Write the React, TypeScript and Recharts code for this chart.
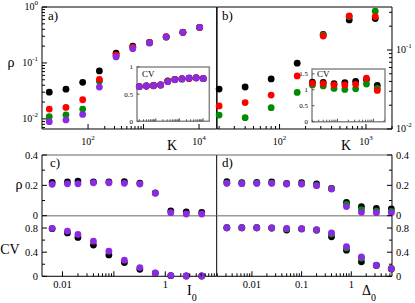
import React from "react"
import {
    ScatterChart,
    Scatter,
    XAxis,
    YAxis,
    ReferenceLine,
    ReferenceArea,
} from "recharts"

// panel a) rho vs K, inset CV vs K
const kA = [20, 40, 80, 160, 320, 640, 1280, 2560, 5120, 10240]
const rhoABlack = [0.03, 0.034, 0.045, 0.072, 0.149, 0.2, 0.232, 0.29, 0.35, 0.43]
const rhoARed = [0.015, 0.016, 0.022, 0.051, 0.139, 0.19, 0.23, 0.295, 0.352, 0.432]
const rhoAGreen = [0.011, 0.0118, 0.015, 0.047, 0.135, 0.188, 0.228, 0.292, 0.356, 0.433]
const rhoAPurple = [0.0089, 0.0096, 0.012, 0.037, 0.128, 0.18, 0.228, 0.293, 0.353, 0.434]
const cvABlack = [0.64, 0.65, 0.66, 0.67, 0.745, 0.77, 0.78, 0.79, 0.8, 0.785]
const cvARed = [0.64, 0.65, 0.655, 0.67, 0.735, 0.765, 0.785, 0.79, 0.805, 0.79]
const cvAGreen = [0.64, 0.65, 0.655, 0.67, 0.74, 0.77, 0.78, 0.795, 0.8, 0.785]
const cvAPurple = [0.637, 0.65, 0.656, 0.668, 0.73, 0.766, 0.78, 0.797, 0.797, 0.785]

// panel b) rho vs K, inset CV vs K
const kB = [20, 40, 80, 160, 320, 640, 1280]
const rhoBBlack = [0.032, 0.034, 0.043, 0.068, 0.157, 0.24, 0.25]
const rhoBRed = [0.0196, 0.0216, 0.0269, 0.047, 0.15, 0.27, 0.265]
const rhoBGreen = [0.015, 0.0139, 0.0186, 0.029, 0.155, 0.265, 0.31]
const cvBBlack = [1.24, 1.23, 1.19, 1.22, 1.26, 1.32, 1.14]
const cvBRed = [1.2, 1.19, 1.15, 1.15, 1.17, 1.36, 0.98]
const cvBGreen = [1.15, 1.12, 1.04, 1.01, 1.03, 1.18, 1.04]

// panel c) rho and CV vs I0
const i0 = [0.0063, 0.0125, 0.02, 0.04, 0.08, 0.16, 0.32, 0.64, 1.28, 2.56, 5.12]
const rhoCBlack = [0.22, 0.222, 0.228, 0.222, 0.222, 0.225, 0.215, 0.15, 0.031, 0.025, 0.021]
const rhoCPurple = [0.207, 0.21, 0.21, 0.217, 0.217, 0.213, 0.209, 0.148, 0.02, 0.011, 0.011]
const cvCBlack = [0.79, 0.72, 0.645, 0.517, 0.355, 0.228, 0.117, 0.05, 0.01, 0.005, 0.005]
const cvCPurple = [0.795, 0.75, 0.695, 0.583, 0.417, 0.267, 0.145, 0.055, 0.012, 0.005, 0.005]

// panel d) rho and CV vs Delta0
const d0 = [0.003125, 0.00625, 0.0125, 0.025, 0.05, 0.1, 0.2, 0.4, 0.8, 1.6, 3.2, 6.4]
const rhoDBlack = [0.224, 0.217, 0.22, 0.222, 0.212, 0.217, 0.209, 0.18, 0.088, 0.06, 0.048, 0.044]
const rhoDGreen = [0.215, 0.212, 0.214, 0.215, 0.21, 0.21, 0.2, 0.178, 0.075, 0.04, 0.03, 0.028]
const rhoDPurple = [0.213, 0.211, 0.213, 0.213, 0.209, 0.209, 0.198, 0.176, 0.06, 0.022, 0.02, 0.02]
const cvDBlack = [0.805, 0.805, 0.805, 0.8, 0.767, 0.785, 0.765, 0.655, 0.433, 0.24, 0.18, 0.12]
const cvDGreen = [0.805, 0.805, 0.805, 0.8, 0.785, 0.788, 0.77, 0.7, 0.47, 0.3, 0.18, 0.13]
const cvDPurple = [0.805, 0.805, 0.805, 0.805, 0.795, 0.79, 0.772, 0.72, 0.49, 0.32, 0.183, 0.128]

// tick labels
const rhoTicks = [0, 0.1, 0.2, 0.3, 0.4]
const rhoLabels = [0, 0.2, 0.4]
const cvTicks = [0, 0.2, 0.4, 0.6, 0.8]
const cvLabels = [0, 0.4, 0.8]
const insetATicks = [0, 0.5, 1]
const insetBTicks = [0, 0.5, 1, 1.5]

const BLACK = "#000000"
const RED = "#ff0000"
const GREEN = "#008c00"
const PURPLE = "#8a2be2"
const GRAY = "#999999"
const FONT = "'Liberation Serif', 'DejaVu Serif', serif"
const PAD = 40
// axes need a non-zero size to be drawn at all
const THIN = 0.01

type Box = { x: number; y: number; w: number; h: number }

const logTicks = (lo: number, hi: number) => {
    const t: number[] = []
    for (let e = Math.floor(Math.log10(lo)); e <= Math.ceil(Math.log10(hi)); e++) {
        for (let m = 1; m < 10; m++) {
            const v = Number((m * Math.pow(10, e)).toPrecision(3))
            if (v >= lo && v <= hi) t.push(v)
        }
    }
    return t
}

const isDecade = (v: number) => Math.abs(Math.log10(v) - Math.round(Math.log10(v))) < 1e-6

const pow = (v: number) => (
    <>
        <tspan>10</tspan>
        <tspan dy={-5} fontSize={7}>{Math.round(Math.log10(v))}</tspan>
    </>
)

type TickOpts = {
    major: (v: number) => boolean
    label: (v: number) => React.ReactNode
    fs?: number
    dy?: number
    color?: string
    long?: number
    short?: number
}

function tickFn(side: "bottom" | "left" | "right", o: TickOpts) {
    return (p: any) => {
        const v = p.payload.value as number
        const { x, y } = p
        const len = o.major(v) ? o.long ?? 5 : o.short ?? 3
        const lab = o.label(v)
        const fs = o.fs ?? 10.5
        const c = o.color ?? BLACK
        if (side === "bottom") {
            return (
                <g>
                    <line x1={x} x2={x} y1={y} y2={y - len} stroke={c} />
                    {lab != null && (
                        <text x={x} y={y + (o.dy ?? 12)} textAnchor="middle" fontSize={fs} fontFamily={FONT} fill={BLACK}>
                            {lab}
                        </text>
                    )}
                </g>
            )
        }
        const s = side === "left" ? 1 : -1
        return (
            <g>
                <line x1={x} x2={x + s * len} y1={y} y2={y} stroke={c} />
                {lab != null && (
                    <text
                        x={x - s * 4}
                        y={y + fs * 0.34}
                        textAnchor={side === "left" ? "end" : "start"}
                        fontSize={fs}
                        fontFamily={FONT}
                        fill={BLACK}
                    >
                        {lab}
                    </text>
                )}
            </g>
        )
    }
}

const pts = (xs: number[], ys: number[]) => xs.map((x, i) => ({ x, y: ys[i] }))
const dot = (color: string) => (p: any) => <circle cx={p.cx} cy={p.cy} r={3.4} fill={color} />

function Plot({ box, children }: { box: Box; children: React.ReactNode }) {
    return (
        <div style={{ position: "absolute", left: box.x - PAD, top: box.y - PAD }}>
            <ScatterChart
                width={box.w + 2 * PAD}
                height={box.h + 2 * PAD}
                margin={{ top: PAD, right: PAD, bottom: PAD, left: PAD }}
            >
                {children}
            </ScatterChart>
        </div>
    )
}

const axisX = (domain: number[], ticks: number[], tick: any, hide = false, axisLine: any = { stroke: BLACK }) => (
    <XAxis
        dataKey="x"
        type="number"
        scale="log"
        domain={domain}
        ticks={ticks}
        interval={0}
        tick={tick}
        tickLine={false}
        tickSize={0}
        tickMargin={0}
        height={THIN}
        axisLine={axisLine}
        hide={hide}
    />
)

const axisY = (
    scale: "log" | "linear",
    domain: number[],
    ticks: number[],
    tick: any,
    orientation: "left" | "right" = "left",
    axisLine: any = { stroke: BLACK },
) => (
    <YAxis
        dataKey="y"
        type="number"
        scale={scale}
        domain={domain}
        ticks={ticks}
        interval={0}
        tick={tick}
        tickLine={false}
        tickSize={0}
        tickMargin={0}
        width={THIN}
        orientation={orientation}
        axisLine={axisLine}
    />
)

const series = (xs: number[], list: [number[], string][]) =>
    list.map(([ys, c], i) => (
        <Scatter key={i} data={pts(xs, ys)} shape={dot(c)} isAnimationActive={false} />
    ))

const boxA: Box = { x: 42, y: 7, w: 174.7, h: 122 }
const boxAIn: Box = { x: 136.7, y: 67, w: 72.3, h: 54.3 }
const boxB: Box = { x: 216.7, y: 7, w: 175, h: 122 }
const boxBIn: Box = { x: 311.5, y: 69, w: 73, h: 52.7 }
const boxCU: Box = { x: 42, y: 155, w: 174.7, h: 60.7 }
const boxCL: Box = { x: 42, y: 215.7, w: 174.7, h: 60.3 }
const boxDU: Box = { x: 216.7, y: 155, w: 175, h: 60.7 }
const boxDL: Box = { x: 216.7, y: 215.7, w: 175, h: 60.3 }

const domAX = [14.8, 20800]
const domAY = [0.0066, 1]
const domAInX = [16, 18400]
const domBX = [18.9, 2000]
const domBY = [0.01, 0.35]
const domBInX = [19.5, 2100]
const domCX = [0.004, 10]
const domDX = [0.00198, 6.6]

const numLabel = (list: number[]) => (v: number) => (list.includes(v) ? String(v) : null)

export default function App() {
    const aXTicks = [100, ...logTicks(200, 900), 1000, 10000]
    const cXTicks = [...logTicks(0.01, 0.1), ...logTicks(1, 9)]
    const insetTick = (side: "bottom" | "left") =>
        tickFn(side, { major: isDecade, label: () => null, color: "#555", long: 3, short: 2 })
    const insetYTick = (labels: number[]) =>
        tickFn("left", { major: () => true, label: numLabel(labels), fs: 7, color: "#555", long: 2.5 })

    return (
        <div style={{ position: "absolute", left: 0, top: 0, width: 415, height: 303, background: "#fff", fontFamily: FONT }}>
            {/* a) */}
            <Plot box={boxA}>
                {axisX(domAX, aXTicks, tickFn("bottom", {
                    major: isDecade,
                    label: (v) => (v === 100 || v === 10000 ? pow(v) : null),
                    dy: 16,
                    fs: 10,
                }))}
                {axisY("log", domAY, logTicks(0.0066, 1), tickFn("left", {
                    major: isDecade,
                    label: (v) => (isDecade(v) ? pow(v) : null),
                    fs: 10,
                }))}
                <ReferenceLine y={1} stroke={BLACK} ifOverflow="visible" />
                <ReferenceLine x={domAX[1]} stroke={BLACK} ifOverflow="visible" />
                {series(kA, [[rhoABlack, BLACK], [rhoAGreen, GREEN], [rhoARed, RED], [rhoAPurple, PURPLE]])}
            </Plot>
            <Plot box={boxAIn}>
                {axisX(domAInX, logTicks(16, 18400), insetTick("bottom"), false, false)}
                {axisY("linear", [0, 1], insetATicks, insetYTick(insetATicks), "left", false)}
                <ReferenceArea x1={domAInX[0]} x2={domAInX[1]} y1={0} y2={1} fill="#fff" fillOpacity={1} stroke="#888" strokeWidth={1.5} ifOverflow="visible" />
                {series(kA, [[cvABlack, BLACK], [cvAGreen, GREEN], [cvARed, RED], [cvAPurple, PURPLE]])}
            </Plot>

            {/* b) */}
            <Plot box={boxB}>
                {axisX(domBX, logTicks(20, 2000), tickFn("bottom", {
                    major: isDecade,
                    label: (v) => (isDecade(v) ? pow(v) : null),
                    dy: 16,
                    fs: 10,
                }))}
                {axisY("log", domBY, logTicks(0.01, 0.35), tickFn("right", {
                    major: isDecade,
                    label: (v) => (isDecade(v) ? pow(v) : null),
                    fs: 10,
                }), "right")}
                <ReferenceLine y={domBY[1]} stroke={BLACK} ifOverflow="visible" />
                <ReferenceLine x={domBX[0]} stroke={BLACK} ifOverflow="visible" />
                {series(kB, [[rhoBBlack, BLACK], [rhoBGreen, GREEN], [rhoBRed, RED]])}
            </Plot>
            <Plot box={boxBIn}>
                {axisX(domBInX, logTicks(20, 2000), insetTick("bottom"), false, false)}
                {axisY("linear", [0, 1.65], insetBTicks, insetYTick(insetBTicks), "left", false)}
                <ReferenceArea x1={domBInX[0]} x2={domBInX[1]} y1={0} y2={1.65} fill="#fff" fillOpacity={1} stroke="#888" strokeWidth={1.5} ifOverflow="visible" />
                {series(kB, [[cvBBlack, BLACK], [cvBGreen, GREEN], [cvBRed, RED]])}
            </Plot>

            {/* c) */}
            <Plot box={boxCU}>
                {axisX(domCX, cXTicks, false, true)}
                {axisY("linear", [0, 0.4], rhoTicks, tickFn("left", {
                    major: (v) => rhoLabels.includes(v),
                    label: numLabel(rhoLabels),
                }))}
                <ReferenceLine y={0.4} stroke={GRAY} strokeWidth={1.6} ifOverflow="visible" />
                <ReferenceLine y={0} stroke={GRAY} strokeWidth={1.4} ifOverflow="visible" />
                <ReferenceLine x={domCX[1]} stroke={BLACK} ifOverflow="visible" />
                {series(i0, [[rhoCBlack, BLACK], [rhoCPurple, PURPLE]])}
            </Plot>
            <Plot box={boxCL}>
                {axisX(domCX, cXTicks, tickFn("bottom", {
                    major: isDecade,
                    label: (v) => (v === 0.01 ? "0.01" : v === 1 ? "1" : null),
                }))}
                {axisY("linear", [0, 1], cvTicks, tickFn("left", {
                    major: (v) => cvLabels.includes(v),
                    label: numLabel(cvLabels),
                }))}
                <ReferenceLine x={domCX[1]} stroke={BLACK} ifOverflow="visible" />
                {series(i0, [[cvCBlack, BLACK], [cvCPurple, PURPLE]])}
            </Plot>

            {/* d) */}
            <Plot box={boxDU}>
                {axisX(domDX, logTicks(0.002, 6.6), false, true)}
                {axisY("linear", [0, 0.4], rhoTicks, tickFn("right", {
                    major: (v) => rhoLabels.includes(v),
                    label: numLabel(rhoLabels),
                }), "right")}
                <ReferenceLine y={0.4} stroke={GRAY} strokeWidth={1.6} ifOverflow="visible" />
                <ReferenceLine y={0} stroke={GRAY} strokeWidth={1.4} ifOverflow="visible" />
                {series(d0, [[rhoDBlack, BLACK], [rhoDGreen, GREEN], [rhoDPurple, PURPLE]])}
            </Plot>
            <Plot box={boxDL}>
                {axisX(domDX, logTicks(0.002, 6.6), tickFn("bottom", {
                    major: isDecade,
                    label: (v) => (v === 0.01 ? "0.01" : v === 0.1 ? "0.1" : v === 1 ? "1" : null),
                }))}
                {axisY("linear", [0, 1], cvTicks, tickFn("right", {
                    major: (v) => cvLabels.includes(v),
                    label: numLabel(cvLabels),
                }), "right")}
                {series(d0, [[cvDBlack, BLACK], [cvDGreen, GREEN], [cvDPurple, PURPLE]])}
            </Plot>

            <svg
                width={415}
                height={303}
                style={{ position: "absolute", left: 0, top: 0, pointerEvents: "none" }}
                fontFamily={FONT}
            >
                <text x={11} y={67} fontSize={14} textAnchor="middle">ρ</text>
                <text x={172} y={150} fontSize={14} textAnchor="middle">K</text>
                <text x={346} y={150} fontSize={14} textAnchor="middle">K</text>
                <text x={19} y={189} fontSize={14} textAnchor="middle">ρ</text>
                <text x={10} y={254} fontSize={14} textAnchor="middle">CV</text>
                <text x={187} y={295} fontSize={14}>
                    I<tspan dy={6} fontSize={10}>0</tspan>
                </text>
                <text x={362} y={295} fontSize={14}>
                    Δ<tspan dy={6} fontSize={10}>0</tspan>
                </text>
                <text x={48} y={20} fontSize={13}>a)</text>
                <text x={222} y={20} fontSize={13}>b)</text>
                <text x={50} y={167} fontSize={13}>c)</text>
                <text x={222} y={167} fontSize={13}>d)</text>
                <text x={142} y={77} fontSize={9}>CV</text>
                <text x={317} y={77} fontSize={9}>CV</text>
            </svg>
        </div>
    )
}
